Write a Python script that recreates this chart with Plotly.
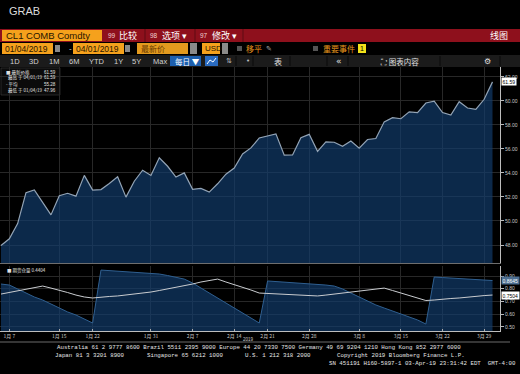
import numpy as np
import pandas as pd
import plotly.graph_objects as go

# ---------------- data ----------------
holidays = ["2019-01-21", "2019-02-18"]
dates = [d.strftime("%Y-%m-%d") for d in pd.bdate_range("2019-01-04", "2019-04-01")
         if d.strftime("%Y-%m-%d") not in holidays]

price = [47.96, 48.52, 49.78, 52.36, 52.59, 51.59, 50.51, 52.11, 52.31, 52.07,
         53.80, 52.57, 52.62, 53.13, 53.69, 51.99, 53.31, 54.23, 53.79, 55.26,
         54.56, 53.66, 54.01, 52.64, 52.72, 52.41, 53.10, 53.90, 54.41, 55.59,
         56.09, 56.92, 57.07, 57.26, 55.48, 55.50, 56.94, 57.22, 55.80, 56.59,
         56.56, 56.22, 56.66, 56.07, 56.79, 56.87, 58.26, 58.61, 58.52, 59.09,
         59.03, 59.83, 59.98, 59.04, 58.82, 59.94, 59.41, 59.30, 60.14, 61.59]

ind_area = [0.837, 0.829, 0.798, 0.766, 0.735, 0.711, 0.680, 0.648, 0.617, 0.593,
            0.562, 0.530, 0.947, 0.943, 0.939, 0.935, 0.931, 0.928, 0.924, 0.916,
            0.904, 0.892, 0.876, 0.845, 0.805, 0.766, 0.727, 0.687, 0.648, 0.609,
            0.569, 0.530, 0.861, 0.857, 0.853, 0.849, 0.845, 0.841, 0.833, 0.829,
            0.821, 0.798, 0.766, 0.735, 0.703, 0.672, 0.648, 0.624, 0.601, 0.577,
            0.554, 0.522, 0.892, 0.888, 0.884, 0.880, 0.876, 0.872, 0.868, 0.8645]

ind_line = [0.758, 0.770, 0.782, 0.794, 0.805, 0.821, 0.805, 0.790, 0.770, 0.750,
            0.735, 0.727, 0.735, 0.739, 0.743, 0.750, 0.758, 0.766, 0.774, 0.786,
            0.798, 0.809, 0.821, 0.837, 0.853, 0.865, 0.876, 0.853, 0.833, 0.813,
            0.790, 0.766, 0.762, 0.758, 0.754, 0.750, 0.746, 0.746, 0.743, 0.750,
            0.758, 0.766, 0.774, 0.782, 0.790, 0.798, 0.805, 0.786, 0.766, 0.743,
            0.723, 0.707, 0.711, 0.719, 0.723, 0.727, 0.735, 0.739, 0.746, 0.7504]

tick_dates = ["2019-01-07", "2019-01-15", "2019-01-22", "2019-01-31", "2019-02-07",
              "2019-02-14", "2019-02-21", "2019-02-28", "2019-03-08", "2019-03-15",
              "2019-03-22", "2019-03-29"]
tick_text = ["1月 7", "1月 15", "1月 22", "1月 31", "2月 7", "2月 14", "2月 21",
             "2月 28", "3月 8", "3月 15", "3月 22", "3月 29"]
price_ticks = [48, 50, 52, 54, 56, 58, 60, 62]
ind_ticks = [0.5, 0.6, 0.7, 0.8, 0.9]

ticker = "CL1 COMB Comdty"
start_label = "01/04/2019"
end_label = "04/01/2019"

# ---------------- layout helpers (pixel -> paper) ----------------
W, H = 520, 374
ML, MR, MT, MB = 0, 20, 67, 43
PW, PH = W - ML - MR, H - MT - MB


def X(px):
    return (px - ML) / PW


def Y(py):
    return (H - MB - py) / PH


CJK = "Noto Sans CJK SC"
SANS = "Liberation Sans"
MONO = "Liberation Mono"

shapes = []
ann = []


def rect(x0, y0, x1, y1, fill, line=None, lw=0):
    shapes.append(dict(type="rect", xref="paper", yref="paper", x0=X(x0), x1=X(x1),
                       y0=Y(y1), y1=Y(y0), fillcolor=fill,
                       line=dict(color=line or fill, width=lw), layer="below"))


def hline(x0, x1, y, color, w=1):
    shapes.append(dict(type="line", xref="paper", yref="paper", x0=X(x0), x1=X(x1),
                       y0=Y(y), y1=Y(y), line=dict(color=color, width=w)))


def vline(x, y0, y1, color, w=1):
    shapes.append(dict(type="line", xref="paper", yref="paper", x0=X(x), x1=X(x),
                       y0=Y(y0), y1=Y(y1), line=dict(color=color, width=w)))


def text(x, y, s, size=9, color="#ffffff", family=CJK, anchor="left", bg=None):
    d = dict(xref="paper", yref="paper", x=X(x), y=Y(y), text=s, showarrow=False,
             xanchor=anchor, yanchor="middle",
             font=dict(size=size, color=color, family=family))
    if bg:
        d["bgcolor"] = bg
        d["borderpad"] = 0
    ann.append(d)


# title
text(7, 11, "GRAB", 11, "#dcdcdc", SANS)

# red toolbar
rect(0, 29, 520, 42, "#8e101c")
rect(2, 30, 102, 41, "#f5a11c")
text(4, 35.5, ticker, 9.5, "#2a1500", SANS)
for x in (145, 195, 243):
    vline(x, 29, 42, "#5e0a12", 1)
text(106, 35.5, "99", 6.5, "#f0d0d0", SANS)
text(117, 35.5, "比较", 9, "#ffffff")
text(148, 35.5, "98", 6.5, "#f0d0d0", SANS)
text(160, 35.5, "选项 ▾", 9, "#ffffff")
text(198, 35.5, "97", 6.5, "#f0d0d0", SANS)
text(210, 35.5, "修改 ▾", 9, "#ffffff")
text(510, 35.5, "线图", 9, "#ffffff", anchor="right")

# date row
rect(2, 43, 53, 54, "#f5a11c")
text(3, 48.5, start_label, 8.5, "#2a1500", SANS)
rect(55, 45, 60, 52, "#8a8a8a")
text(67, 48.5, "-", 8, "#dddddd", SANS)
rect(73, 43, 124, 54, "#f5a11c")
text(74, 48.5, end_label, 8.5, "#2a1500", SANS)
rect(125, 45, 130, 52, "#8a8a8a")
rect(137, 43, 188, 54, "#e39a1e")
text(139, 48.5, "最新价", 8, "#6a3a00")
rect(190, 43, 197, 54, "#8a8a8a")
rect(202, 43, 220, 54, "#f5a11c")
text(203, 48.5, "USD", 8, "#2a1500", SANS)
rect(222, 43, 228, 54, "#8a8a8a")
rect(237, 46, 242, 51, "#555555")
text(244, 48.5, "移平", 8, "#e8961c")
text(264, 48.5, "✎", 7, "#aaaaaa", "DejaVu Sans")
rect(313, 46, 318, 51, "#555555")
text(321, 48.5, "重要事件", 8, "#e8961c")
rect(358, 44, 366, 53, "#f2e21a")
text(362, 48.5, "1", 7, "#000000", SANS, anchor="center")

# period row
rect(0, 55, 520, 67, "#1b1b1b")
for lab, x in [("1D", 8), ("3D", 27), ("1M", 47), ("6M", 67), ("YTD", 87),
               ("1Y", 112), ("5Y", 130), ("Max", 151)]:
    text(x, 61, lab, 7.5, "#d2d2d2", SANS)
rect(170, 56, 201, 66, "#1d5fae")
text(173, 61, "每日 ▼", 7.5, "#ffffff")
rect(205, 56, 218, 66, "#2a6bc0")
shapes.append(dict(type="path", xref="paper", yref="paper",
                   path=f"M {X(207)},{Y(64)} L {X(210)},{Y(60)} L {X(213)},{Y(62)} L {X(216)},{Y(58)}",
                   line=dict(color="#ffffff", width=1)))
text(224, 61, "⇅", 7, "#bbbbbb", "DejaVu Sans")
text(244, 61, "•", 7, "#bbbbbb", "DejaVu Sans")
text(272, 61, "表", 8, "#e0e0e0")
text(334, 61, "«", 9, "#e0e0e0", "DejaVu Sans")
text(378, 61, "⛶ 图表内容", 7.5, "#e0e0e0")
text(482, 61, "⚙", 8, "#e0e0e0", "DejaVu Sans")
for x in (236, 253, 290, 327, 348, 440, 500):
    vline(x, 56, 66, "#0b0b0b", 1)

# main legend box
rect(1, 68, 60, 95, "#0b0b0b", "#3c3c3c", 0.6)
avg = float(np.mean(price))
leg = [("■ 最新价格", f"{price[-1]:.2f}", 72),
       ("  最高 于 04/01/19", f"{max(price):.2f}", 78),
       ("- 平均", f"{avg:.2f}", 84),
       ("  最低 于 01/04/19", f"{min(price):.2f}", 90)]
for lab, val, y in leg:
    text(4, y, lab, 4.5, "#e0e0e0")
    text(58, y, val, 4.5, "#e0e0e0", SANS, anchor="right")

# lower legend
text(5, 270, "■ 期货仓量 0.4404", 4.5, "#e0e0e0")

# x axis bottom decorations
hline(0, 510, 342, "#6a6a6a", 1)
text(248, 339, "2019", 4.5, "#c8c8c8", SANS, anchor="center")

# footer
text(259, 347, "Australia 61 2 9777 8600 Brazil 5511 2395 9000 Europe 44 20 7330 7500 "
               "Germany 49 69 9204 1210 Hong Kong 852 2977 6000", 5.75, "#e6e6e6", MONO, anchor="center")
text(53, 355, "Japan 81 3 3201 8900", 5.75, "#e6e6e6", MONO)
text(145, 355, "Singapore 65 6212 1000", 5.75, "#e6e6e6", MONO)
text(243, 355, "U.S. 1 212 318 2000", 5.75, "#e6e6e6", MONO)
text(335, 355, "Copyright 2019 Bloomberg Finance L.P.", 5.75, "#e6e6e6", MONO)
text(518, 363, "SN 451191 H160-5897-1 03-Apr-19 23:31:42 EDT  GMT-4:00", 5.75, "#e6e6e6", MONO,
     anchor="right")

# value tags
ann.append(dict(xref="paper", yref="y", x=1, y=price[-1], xanchor="left", yanchor="middle",
                xshift=1, text=f"{price[-1]:.2f}", showarrow=False, bgcolor="#ffffff",
                borderpad=0.5, font=dict(size=5, color="#000000", family=SANS)))
ann.append(dict(xref="paper", yref="y2", x=1, y=ind_area[-1], xanchor="left", yanchor="middle",
                xshift=1, text=f"{ind_area[-1]:.4f}", showarrow=False, bgcolor="#4d6f92",
                borderpad=0.5, font=dict(size=5, color="#ffffff", family=SANS)))
ann.append(dict(xref="paper", yref="y2", x=1, y=ind_line[-1], xanchor="left", yanchor="middle",
                xshift=1, text=f"{ind_line[-1]:.4f}", showarrow=False, bgcolor="#ffffff",
                borderpad=0.5, font=dict(size=5, color="#000000", family=SANS)))

# ---------------- traces ----------------
fill_c = "rgba(18,62,112,0.66)"
fig = go.Figure()
fig.add_trace(go.Scatter(
    x=dates, y=price, xaxis="x", yaxis="y", mode="lines",
    line=dict(color="#93a4b6", width=1.2),
    fill="tozeroy", fillcolor=fill_c, hoverinfo="skip", showlegend=False))
fig.add_trace(go.Scatter(
    x=dates, y=ind_area, xaxis="x2", yaxis="y2", mode="lines",
    line=dict(color="#2f5f90", width=1),
    fill="tozeroy", fillcolor=fill_c, hoverinfo="skip", showlegend=False))
fig.add_trace(go.Scatter(
    x=dates, y=ind_line, xaxis="x2", yaxis="y2", mode="lines",
    line=dict(color="#c9ccd0", width=1), hoverinfo="skip", showlegend=False))

grid = "#282828"
xr = [-0.12, 59.9]
main_bottom = Y(263)
low_top = Y(266)

fig.update_layout(
    width=W, height=H, margin=dict(l=ML, r=MR, t=MT, b=MB),
    paper_bgcolor="#000000", plot_bgcolor="#000000",
    xaxis=dict(domain=[0, 1], anchor="y", type="category", range=xr,
               tickvals=tick_dates, showticklabels=False, ticks="",
               showgrid=True, gridcolor=grid, gridwidth=1, zeroline=False,
               showline=True, linecolor="#6e6e6e", linewidth=1),
    xaxis2=dict(domain=[0, 1], anchor="y2", type="category", range=xr, matches="x",
                tickvals=tick_dates, ticktext=tick_text, ticks="inside", ticklen=2,
                tickcolor="#aaaaaa", tickfont=dict(size=5, color="#c8c8c8", family=CJK),
                showgrid=True, gridcolor=grid, gridwidth=1, zeroline=False,
                showline=True, linecolor="#bdbdbd", linewidth=1),
    yaxis=dict(domain=[main_bottom, 1], anchor="x", side="right",
               range=[46.5, 62.83], tickvals=price_ticks, tickformat=".2f",
               ticks="outside", ticklen=3, tickcolor="#bbbbbb",
               tickfont=dict(size=5, color="#c8c8c8", family=SANS),
               showgrid=True, gridcolor=grid, zeroline=False,
               showline=True, linecolor="#bdbdbd", linewidth=1),
    yaxis2=dict(domain=[0, low_top], anchor="x2", side="right",
                range=[0.467, 0.979], tickvals=ind_ticks, tickformat=".2f",
                ticks="outside", ticklen=3, tickcolor="#bbbbbb",
                tickfont=dict(size=5, color="#c8c8c8", family=SANS),
                showgrid=True, gridcolor=grid, zeroline=False,
                showline=True, linecolor="#bdbdbd", linewidth=1),
    shapes=shapes, annotations=ann, hovermode=False,
)

fig.write_html("out.html", config={"displayModeBar": False},
               post_script="document.body.style.margin='0px';document.body.style.background='#000';")
